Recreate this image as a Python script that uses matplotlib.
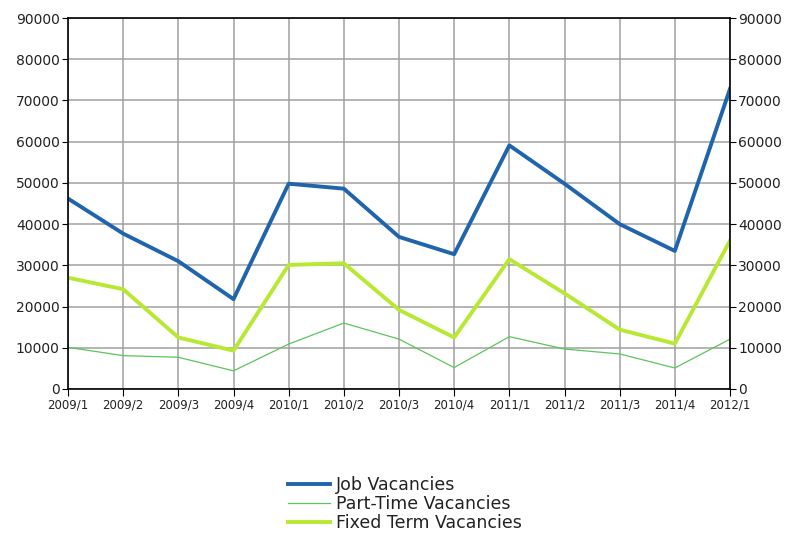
import numpy as np
import matplotlib.pyplot as plt

quarters = ["2009/1", "2009/2", "2009/3", "2009/4", "2010/1", "2010/2", "2010/3",
            "2010/4", "2011/1", "2011/2", "2011/3", "2011/4", "2012/1"]
job = [46200, 37700, 31000, 21800, 49800, 48600, 36900,
       32700, 59100, 49800, 40000, 33500, 72800]
part_time = [10100, 8100, 7700, 4400, 10900, 16000, 12100,
             5200, 12700, 9700, 8500, 5100, 12100]
fixed_term = [27000, 24200, 12500, 9300, 30100, 30500, 19200,
              12500, 31500, 23200, 14400, 11000, 36000]
yticks = list(range(0, 90001, 10000))

plt.rcParams['font.family'] = ['DejaVu Sans']

fig = plt.figure(figsize=(7.87, 5.36), dpi=100)
ax = fig.add_axes([68/787, 1-389/536, (730-68)/787, (389-18)/536])

x = np.arange(len(quarters))
ax.plot(x, job, color="#1f64ad", lw=2.8, label="Job Vacancies")
ax.plot(x, part_time, color="#5cc55c", lw=0.9, label="Part-Time Vacancies")
ax.plot(x, fixed_term, color="#b9e833", lw=2.8, label="Fixed Term Vacancies")

ax.set_xlim(0, len(quarters)-1)
ax.set_ylim(0, 90000)
ax.set_xticks(x)
ax.set_xticklabels(quarters, fontsize=8.5, color="#222222")
ax.set_yticks(yticks)
ax.set_yticklabels([str(v) for v in yticks], fontsize=10, color="#222222")
ax.tick_params(axis="y", which="both", right=True, labelright=True, length=4,
               direction="out", color="black", pad=2)
ax.tick_params(axis="x", length=5, direction="out", color="black", pad=2)
ax.grid(True, color="#a0a0a0", lw=1.1)
ax.set_axisbelow(True)
for s in ax.spines.values():
    s.set_color("black")
    s.set_linewidth(1.2)

fig.legend(loc="center", bbox_to_anchor=(405/787, 1-504/536), frameon=False,
           fontsize=12.5, handlelength=2.4, labelspacing=0.05, handletextpad=0.35,
           borderpad=0, labelcolor="#222222")

fig.savefig("out.png", dpi=100)
